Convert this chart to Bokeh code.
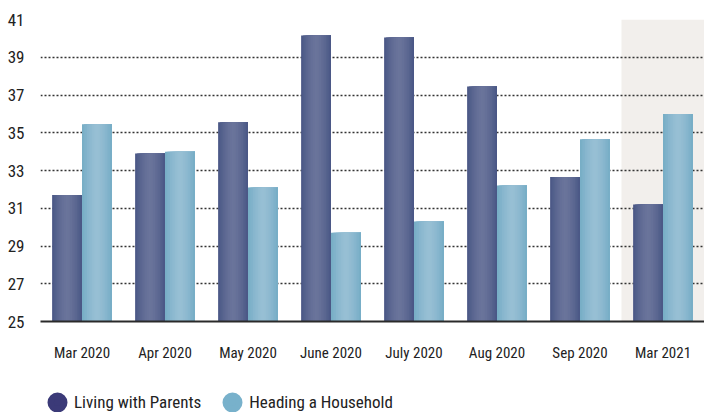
from bokeh.plotting import figure
from bokeh.layouts import column
from bokeh.models import ColumnDataSource, Legend, LegendItem, FactorRange, Range1d, FixedTicker
from bokeh.transform import dodge
from bokeh.embed import file_html
from bokeh.resources import INLINE

# ---- data ----
months = ["Mar 2020", "Apr 2020", "May 2020", "June 2020", "July 2020",
          "Aug 2020", "Sep 2020", "Mar 2021"]
living_with_parents = [31.7, 33.9, 35.55, 40.15, 40.05, 37.45, 32.65, 31.2]
heading_household = [35.45, 34.0, 32.1, 29.7, 30.3, 32.2, 34.65, 36.0]
y_ticks = [25, 27, 29, 31, 33, 35, 37, 39, 41]
highlight = ["Mar 2021"]
series_names = ["Living with Parents", "Heading a Household"]

FONT = "'Roboto Condensed', 'Liberation Sans Narrow', Roboto, sans-serif"
TEXT = "#222222"

y_min, y_max = y_ticks[0], y_ticks[-1]

p = figure(width=704, height=372, output_backend="svg", toolbar_location=None,
           x_range=FactorRange(factors=months, range_padding=0),
           y_range=Range1d(y_min, y_max),
           min_border_left=40, min_border_right=0, min_border_top=19, min_border_bottom=51)
p.outline_line_color = None

source = ColumnDataSource(dict(month=months, parents=living_with_parents,
                               household=heading_household))

# highlighted period
hl = ColumnDataSource(dict(month=highlight, top=[y_max] * len(highlight),
                           bottom=[y_min] * len(highlight)))
p.vbar(x="month", top="top", bottom="bottom", width=1.0, source=hl,
       fill_color="#f2efec", line_color=None, level="image")

def hex2rgb(h):
    h = h.lstrip("#")
    return tuple(int(h[i:i + 2], 16) for i in (0, 2, 4))

def mix(c1, c2, t):
    a, b = hex2rgb(c1), hex2rgb(c2)
    return "#%02x%02x%02x" % tuple(int(round(a[i] + (b[i] - a[i]) * t)) for i in range(3))

# bars with a soft horizontal shading (nested strips, each ending at the bar's right edge)
bw = 0.36
N = 18
styles = [("parents", -bw / 2, "#485684", "#6a749b"),
          ("household", bw / 2, "#75acc5", "#97bfd4")]
for col, off, edge, center in styles:
    for k in range(N):
        left = -bw / 2 + k * bw / N
        right = bw / 2
        t = abs(2 * (k + 0.5) / N - 1) ** 1.5
        c = mix(center, edge, t)
        p.vbar(x=dodge("month", off + (left + right) / 2, range=p.x_range), top=col,
               bottom=y_min, width=right - left, source=source,
               fill_color=c, line_color=None)

# grid
p.xgrid.visible = False
p.ygrid.ticker = FixedTicker(ticks=y_ticks)
p.ygrid.grid_line_color = "#333333"
p.ygrid.grid_line_dash = "2 2"
p.ygrid.grid_line_width = 1.3

# axes
p.yaxis.ticker = FixedTicker(ticks=y_ticks)
p.yaxis.axis_line_color = None
p.yaxis.major_tick_line_color = None
p.yaxis.minor_tick_line_color = None
p.yaxis.major_label_standoff = 10
p.yaxis.major_label_text_font = FONT
p.yaxis.major_label_text_font_size = "17px"
p.yaxis.major_label_text_color = TEXT

p.xaxis.axis_line_color = "#2a2a2a"
p.xaxis.axis_line_width = 2
p.xaxis.major_tick_line_color = None
p.xaxis.minor_tick_line_color = None
p.xaxis.major_label_standoff = 16
p.xaxis.major_label_text_font = FONT
p.xaxis.major_label_text_font_size = "15px"
p.xaxis.major_label_text_color = TEXT

# legend strip below the chart
lg = figure(width=704, height=40, output_backend="svg", toolbar_location=None,
            x_range=Range1d(0, 1), y_range=Range1d(0, 1),
            x_axis_location=None, y_axis_location=None,
            min_border_left=0, min_border_right=0, min_border_top=0, min_border_bottom=0)
lg.outline_line_color = None
lg.grid.visible = False
nan = float("nan")
key = ColumnDataSource(dict(x=[nan], y=[nan]))
r1 = lg.scatter(x="x", y="y", source=key, marker="circle",
                fill_color="#3b3a78", line_color="#3b3a78", line_width=6.4)
r2 = lg.scatter(x="x", y="y", source=key, marker="circle",
                fill_color="#78b1cb", line_color="#78b1cb", line_width=6.4)
legend = Legend(items=[LegendItem(label=series_names[0], renderers=[r1]),
                       LegendItem(label=series_names[1], renderers=[r2])],
                location=(0, -7), orientation="horizontal",
                glyph_width=34, glyph_height=34, label_standoff=0, spacing=14,
                padding=0, margin=0, background_fill_alpha=0, border_line_color=None,
                label_text_font=FONT, label_text_font_size="17px", label_text_color=TEXT)
lg.add_layout(legend)

layout = column(p, lg, spacing=0)
open("out.html", "w").write(file_html(layout, INLINE))
